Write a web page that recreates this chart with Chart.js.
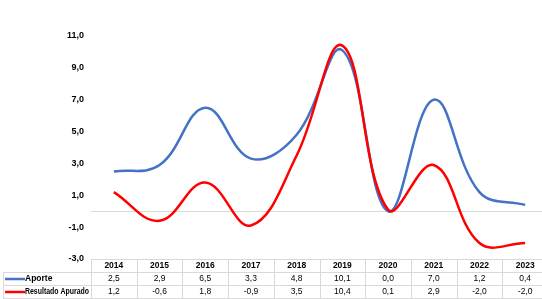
<!DOCTYPE html>
<html>
<head>
<meta charset="utf-8">
<script src="https://cdn.jsdelivr.net/npm/chart.js@4/dist/chart.umd.min.js"></script>
<style>
  html, body { margin: 0; padding: 0; background: #fff; overflow: hidden; }
  #wrap { width: 548px; height: 299px; }
</style>
</head>
<body>
<div id="wrap"><canvas id="chart" width="548" height="299"></canvas></div>
<script>
// Data
const years = ['2014', '2015', '2016', '2017', '2018', '2019', '2020', '2021', '2022', '2023'];
const aporte = [2.5, 2.9, 6.5, 3.3, 4.8, 10.1, 0.0, 7.0, 1.2, 0.4];
const resultado = [1.2, -0.6, 1.8, -0.9, 3.5, 10.4, 0.1, 2.9, -2.0, -2.0];
const seriesNames = ['Aporte', 'Resultado Apurado'];
const seriesColors = ['#4472C4', '#FF0000'];
const yTicks = [11, 9, 7, 5, 3, 1, 0, -1, -3];

const fmt = v => v.toFixed(1).replace('.', ',');
const FONT = '"Liberation Sans", Arial, sans-serif';

// Data table under the plot, columns follow the x scale
const tablePlugin = {
    id: 'dataTable',
    afterDraw(chart) {
        const ctx = chart.ctx;
        const x = chart.scales.x;
        const area = chart.chartArea;
        const rowH = 13;
        const top = area.bottom;
        const colW = x.getPixelForValue(1) - x.getPixelForValue(0);
        const left = area.left;
        const right = area.right;
        const tableLeft = 3;

        ctx.save();
        ctx.strokeStyle = '#d9d9d9';
        ctx.lineWidth = 1;
        ctx.beginPath();
        ctx.moveTo(left, top + 0.5);
        ctx.lineTo(right, top + 0.5);
        for (let r = 1; r <= 3; r++) {
            ctx.moveTo(tableLeft, top + r * rowH + 0.5);
            ctx.lineTo(right, top + r * rowH + 0.5);
        }
        for (let i = 0; i <= years.length; i++) {
            const px = Math.round(left + i * colW) + 0.5;
            ctx.moveTo(px, top);
            ctx.lineTo(px, top + 3 * rowH);
        }
        ctx.moveTo(tableLeft + 0.5, top + rowH);
        ctx.lineTo(tableLeft + 0.5, top + 3 * rowH);
        ctx.stroke();

        ctx.textAlign = 'center';
        ctx.textBaseline = 'middle';
        ctx.fillStyle = '#000';
        years.forEach((y, i) => {
            const cx = x.getPixelForValue(i);
            ctx.font = 'bold 8.5px ' + FONT;
            ctx.fillText(y, cx, top + rowH / 2 + 0.5);
            ctx.font = '8.5px ' + FONT;
            ctx.fillText(fmt(aporte[i]), cx, top + rowH * 1.5 + 0.5);
            ctx.fillText(fmt(resultado[i]), cx, top + rowH * 2.5 + 0.5);
        });

        // legend keys in the row headers
        ctx.textAlign = 'left';
        ctx.font = 'bold 8.5px ' + FONT;
        seriesNames.forEach((name, r) => {
            const cy = top + rowH * (r + 1.5) + 0.5;
            ctx.strokeStyle = seriesColors[r];
            ctx.lineWidth = 2.5;
            ctx.beginPath();
            ctx.moveTo(5, cy);
            ctx.lineTo(25, cy);
            ctx.stroke();
            ctx.fillStyle = '#000';
            ctx.fillText(name, 25, cy, left - 27);
        });
        ctx.restore();
    }
};

new Chart(document.getElementById('chart'), {
    type: 'line',
    data: {
        labels: years,
        datasets: [{
            label: seriesNames[0],
            data: aporte,
            borderColor: seriesColors[0],
            borderWidth: 2.5,
            pointRadius: 0,
            tension: 0.4,
            clip: false,
            order: 1
        }, {
            label: seriesNames[1],
            data: resultado,
            borderColor: seriesColors[1],
            borderWidth: 2.5,
            pointRadius: 0,
            tension: 0.4,
            clip: false,
            order: 0
        }]
    },
    options: {
        responsive: false,
        animation: false,
        layout: { padding: { left: 0, right: 0, top: 36, bottom: 40 } },
        plugins: {
            legend: { display: false },
            tooltip: { enabled: false }
        },
        scales: {
            x: {
                display: false,
                offset: true
            },
            y: {
                min: -3,
                max: 11,
                afterFit(scale) { scale.width = 91; },
                border: { display: false },
                grid: {
                    drawTicks: false,
                    color: c => c.tick && c.tick.value === 0 ? '#d9d9d9' : 'rgba(0,0,0,0)'
                },
                ticks: {
                    padding: 7,
                    color: '#000',
                    font: { family: FONT, size: 9, weight: 'bold' },
                    callback: v => v === 0 ? '' : fmt(v)
                },
                afterBuildTicks(scale) {
                    scale.ticks = yTicks.map(v => ({ value: v }));
                }
            }
        }
    },
    plugins: [tablePlugin]
});
</script>
</body>
</html>
